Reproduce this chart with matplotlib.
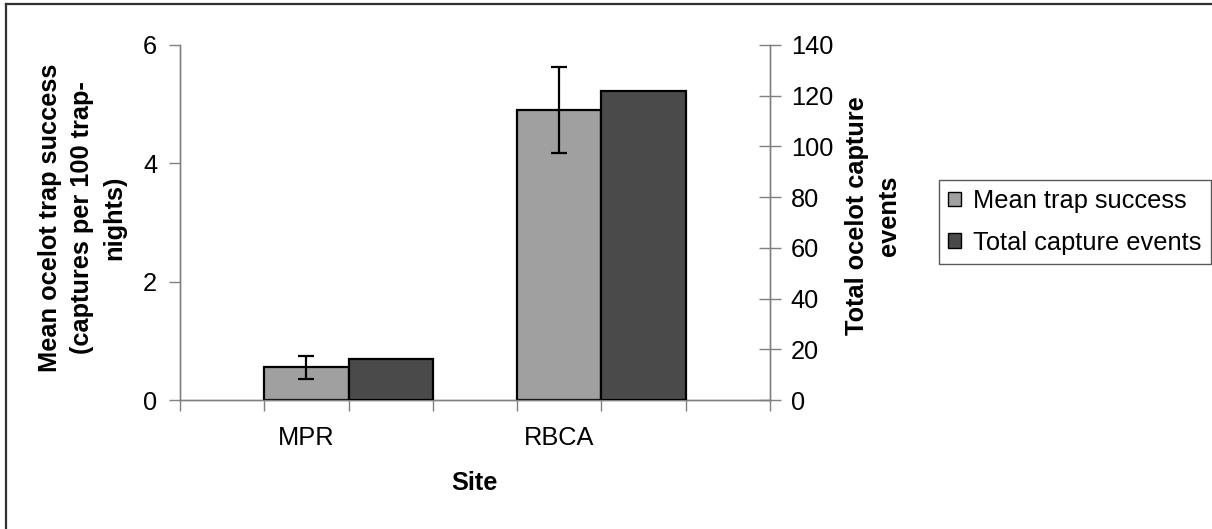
import matplotlib.pyplot as plt
from matplotlib.lines import Line2D
from matplotlib.patches import Patch

plt.rcParams["font.family"] = ["Liberation Sans", "DejaVu Sans"]

sites = ["MPR", "RBCA"]
mean_success = [0.55, 4.9]  # captures per 100 trap-nights
mean_err = [0.2, 0.72]
total_events = [16, 122]

light = "#a0a0a0"
dark = "#4a4a4a"
axis_grey = "#808080"
fs = 18.3

fig = plt.figure(figsize=(12.12, 5.29), dpi=100)
ax = fig.add_axes([180 / 1212, 1 - 400 / 529, 590 / 1212, 355 / 529])
ax2 = ax.twinx()

# bar slots: each site gets two unit-wide slots, with an empty slot between
slot = [1, 4]
ax.bar([s + 0.5 for s in slot], mean_success, width=1, color=light,
       edgecolor="black", linewidth=1.6, zorder=3)
ax.errorbar([s + 0.5 for s in slot], mean_success, yerr=mean_err, fmt="none",
            ecolor="black", elinewidth=1.6, capsize=5.5, capthick=1.6, zorder=4)
ax2.bar([s + 1.5 for s in slot], total_events, width=1, color=dark,
        edgecolor="black", linewidth=1.6, zorder=3)

ax.set_xlim(0, 7)
ax.set_ylim(0, 6)
ax2.set_ylim(0, 140)

ax.set_yticks([0, 2, 4, 6])
ax2.set_yticks(range(0, 141, 20))
ax.set_xticks([s + 0.5 for s in slot])
ax.set_xticklabels(sites)
ax.set_xticks(range(0, 8), minor=True)

for a in (ax, ax2):
    a.spines["top"].set_visible(False)
    for side in ("left", "right", "bottom"):
        a.spines[side].set_color(axis_grey)
        a.spines[side].set_linewidth(1)

ax.tick_params(axis="y", direction="out", length=8, width=1, color=axis_grey,
               labelsize=fs, pad=8.5)
ax2.tick_params(axis="y", direction="inout", length=16, width=1,
                color=axis_grey, labelsize=fs, pad=7)
ax.tick_params(axis="x", which="major", length=0, labelsize=fs, pad=19)
ax.tick_params(axis="x", which="minor", direction="out", length=8, width=1,
               color=axis_grey)

fig.text(474 / 1212, 1 - 483 / 529, "Site", fontsize=fs, fontweight="bold",
         ha="center", va="center")
fig.text(82 / 1212, 1 - 218 / 529,
         "Mean ocelot trap success\n(captures per 100 trap-\nnights)",
         fontsize=fs, fontweight="bold", rotation=90, ha="center",
         va="center", multialignment="center", linespacing=1.42)
fig.text(873 / 1212, 1 - 216 / 529, "Total ocelot capture\nevents",
         fontsize=fs, fontweight="bold", rotation=90, ha="center",
         va="center", multialignment="center", linespacing=1.42)

handles = [Patch(facecolor=light, edgecolor="black", linewidth=1),
           Patch(facecolor=dark, edgecolor="black", linewidth=1)]
leg = fig.legend(handles, ["Mean trap success", "Total capture events"],
                 loc="upper left", bbox_to_anchor=(939 / 1212, 1 - 180 / 529),
                 fontsize=fs, frameon=True, fancybox=False, shadow=False,
                 handlelength=0.5, handleheight=0.5, handletextpad=0.5,
                 labelspacing=0.7, borderpad=0.35, borderaxespad=0)
leg.get_frame().set_edgecolor("#303030")
leg.get_frame().set_linewidth(1)

# chart border
fig.add_artist(Line2D([5.5 / 1212, 5.5 / 1212], [0, 1 - 3.5 / 529],
                      color="#303030", linewidth=1.6))
fig.add_artist(Line2D([5.5 / 1212, 1], [1 - 3.5 / 529, 1 - 3.5 / 529],
                      color="#303030", linewidth=1.6))

fig.savefig("out.png", dpi=100)
